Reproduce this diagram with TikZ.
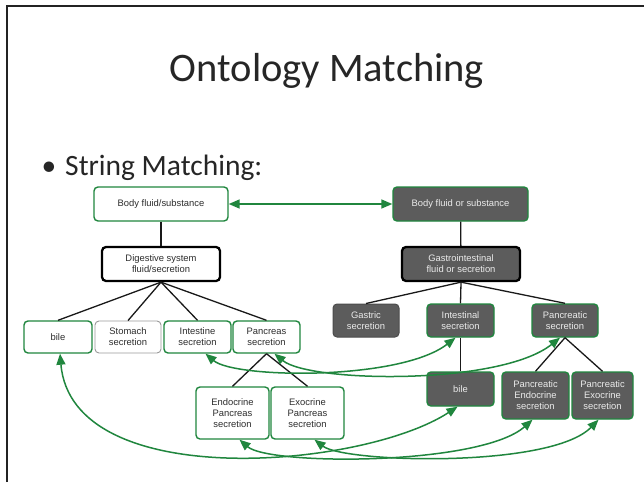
\documentclass[tikz,border=0pt]{standalone}
\usepackage{fontspec}
\setmainfont{Carlito}
\newfontfamily\boxfont{Liberation Sans}
\usetikzlibrary{arrows.meta}
\definecolor{mapgreen}{RGB}{32,134,62}
\definecolor{darkfill}{RGB}{92,92,92}
\definecolor{framegray}{RGB}{35,35,35}
\definecolor{lighttext}{RGB}{45,45,45}

\begin{document}
\begin{tikzpicture}[x=1pt,y=-1pt,
  base/.style={rectangle, rounded corners=4pt, align=center, inner sep=1pt,
    font=\boxfont\fontsize{9.4}{11}\selectfont},
  lightbox/.style={base, draw=mapgreen, line width=1.4pt, fill=white, text=lighttext},
  greybox/.style={base, draw=black!40, line width=0.9pt, fill=white, text=lighttext},
  keybox/.style={base, draw=black, line width=2.3pt, fill=white, text=lighttext},
  darkbox/.style={base, draw=mapgreen, line width=1.4pt, fill=darkfill, text=white!92!black},
  darkplain/.style={base, draw=black!70, line width=1pt, fill=darkfill, text=white!92!black},
  darkkey/.style={base, draw=black, line width=2.3pt, fill=darkfill, text=white!92!black},
  tree/.style={draw=black!90, line width=1.3pt},
  mapline/.style={draw=mapgreen, line width=1.5pt,
    {Triangle[length=11pt,width=9pt]}-{Triangle[length=11pt,width=9pt]}},
]
\useasboundingbox[fill=white] (0,0) rectangle (644,482);
% slide frame
\draw[framegray, line width=1.6pt] (7,482) -- (7,6) -- (644,6);

% headings
\node[font=\fontsize{40.5}{46}\selectfont, text=black!85] (title) at (327,71) {Ontology Matching};
\node[font=\fontsize{29.5}{34}\selectfont, text=black!85, anchor=west] (bullet) at (38,168) {•\hspace{9pt}String Matching:};

% left ontology
\node[lightbox, minimum width=134pt, minimum height=34pt] (bfl) at (161,204) {Body fluid/substance};
\node[keybox, minimum width=118pt, minimum height=34pt] (dig) at (161,264) {Digestive system\\fluid/secretion};
\node[lightbox, minimum width=68pt, minimum height=32pt] (bileL) at (58,337) {bile};
\node[greybox, minimum width=66pt, minimum height=32pt] (stom) at (128,337) {Stomach\\secretion};
\node[lightbox, minimum width=67pt, minimum height=32pt] (intL) at (197.5,337) {Intestine\\secretion};
\node[lightbox, minimum width=67pt, minimum height=32pt] (panL) at (266.5,337) {Pancreas\\secretion};
\node[lightbox, minimum width=73pt, minimum height=52pt] (endL) at (232.5,413) {Endocrine\\Pancreas\\secretion};
\node[lightbox, minimum width=73pt, minimum height=52pt] (exoL) at (307.5,413) {Exocrine\\Pancreas\\secretion};

% right ontology
\node[darkbox, minimum width=135pt, minimum height=34pt] (bfr) at (460.5,204) {Body fluid or substance};
\node[darkkey, minimum width=118pt, minimum height=34pt] (gas) at (461,264) {Gastrointestinal\\fluid or secretion};
\node[darkplain, minimum width=66pt, minimum height=33pt] (gastric) at (366,320.5) {Gastric\\secretion};
\node[darkbox, minimum width=67pt, minimum height=33pt] (intR) at (460.5,320.5) {Intestinal\\secretion};
\node[darkbox, minimum width=66pt, minimum height=33pt] (panR) at (565,320.5) {Pancreatic\\secretion};
\node[darkbox, minimum width=67pt, minimum height=34pt] (bileR) at (460.5,389) {bile};
\node[darkbox, minimum width=67pt, minimum height=47pt] (penR) at (535.5,395.5) {Pancreatic\\Endocrine\\secretion};
\node[darkbox, minimum width=61pt, minimum height=47pt] (pexR) at (602.5,395.5) {Pancreatic\\Exocrine\\secretion};

% hierarchy links
\draw[tree] (bfl) -- (dig);
\foreach \c in {bileL,stom,intL,panL} \draw[tree] (dig.south) -- (\c.north);
\draw[tree] (panL.south) -- (endL.north);
\draw[tree] (panL.south) -- (exoL.north);
\draw[tree] (bfr) -- (gas);
\foreach \c in {gastric,intR,panR} \draw[tree] (gas.south) -- (\c.north);
\draw[tree] (intR) -- (bileR);
\draw[tree] (panR.south) -- (penR.north);
\draw[tree] (panR.south) -- (pexR.north);

% correspondences
\draw[mapline] (bfl.east) -- (bfr.west);
\draw[mapline] ([xshift=8pt]intL.south) .. controls +(29.5,25) and +(-55.5,43) .. ([xshift=-5pt]intR.south);
\draw[mapline] ([xshift=8pt]panL.south) .. controls +(35,29) and +(-60,48) .. ([xshift=-5pt]panR.south);
\draw[mapline] ([xshift=2pt]bileL.south) .. controls +(12,140) and +(-95,62) .. ([xshift=-3pt]bileR.south);
\draw[mapline] ([xshift=7pt]endL.south) .. controls +(30,26) and +(-52,46) .. ([xshift=-3pt]penR.south);
\draw[mapline] ([xshift=7pt]exoL.south) .. controls +(30,23) and +(-48,49) .. ([xshift=-4pt]pexR.south);
\end{tikzpicture}
\end{document}
